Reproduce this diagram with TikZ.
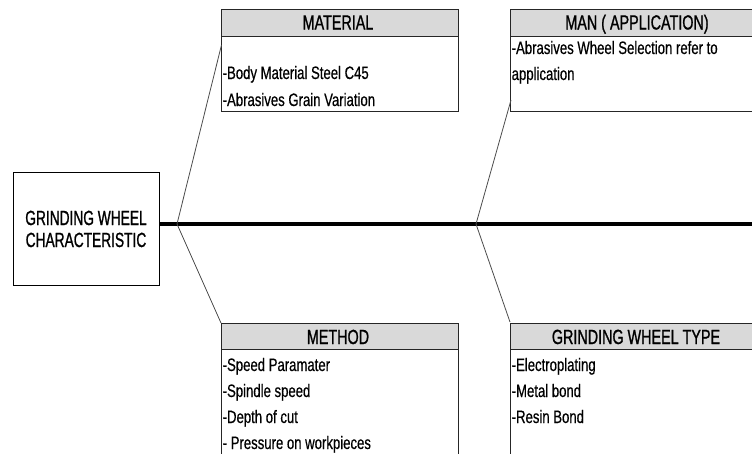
\documentclass[tikz,border=0pt]{standalone}
\usepackage{fontspec}
\setmainfont{Liberation Sans}[FakeStretch=0.73, FakeBold=0.5]
\newfontfamily\headfont{Liberation Sans}[FakeStretch=0.7, FakeBold=1.0]
\newfontfamily\mainfont{Liberation Sans}[FakeStretch=0.67, FakeBold=1.0]
\begin{document}
\begin{tikzpicture}[x=1pt,y=-1pt,
  boxframe/.style={draw=black!85, line width=0.9pt, fill=white, inner sep=0pt, anchor=north west},
  headbox/.style={draw=black!85, line width=0.9pt, fill=black!15, inner sep=0pt, anchor=north west},
  headtext/.style={inner sep=0pt, anchor=base, font=\headfont\fontsize{20.5}{22}\selectfont},
  bodytext/.style={inner sep=0pt, anchor=base west, font=\fontsize{18}{20}\selectfont},
  maintext/.style={inner sep=0pt, anchor=base, font=\mainfont\fontsize{20.5}{22}\selectfont},
  branch/.style={draw=black!70, line width=0.8pt},
  spine/.style={draw=black, line width=3.5pt}
]
\useasboundingbox (0,0) rectangle (752,453);
\clip (0,0) rectangle (752,453);

% main box
\node[boxframe, draw=black, minimum width=146pt, minimum height=113pt] (mainbox) at (13,172) {};
\node[maintext] (main1) at (86,225) {GRINDING WHEEL};
\node[maintext] (main2) at (86,247) {CHARACTERISTIC};

% junctions
\coordinate (spinestart) at (159,224);
\coordinate (spineend) at (752,224);
\coordinate (j1) at (177,224);
\coordinate (j2) at (476,224);

% MATERIAL
\node[boxframe, minimum width=237pt, minimum height=102pt] (matbox) at (221,9) {};
\node[headbox, minimum width=237pt, minimum height=27pt] (mathead) at (221,9) {};
\node[headtext] (matt) at (338,29.5) {MATERIAL};
\node[bodytext] (mat1) at (222.5,79) {-Body Material Steel C45};
\node[bodytext] (mat2) at (222.5,106) {-Abrasives Grain Variation};

% MAN
\node[boxframe, minimum width=255pt, minimum height=102pt] (manbox) at (510,9) {};
\node[headbox, minimum width=255pt, minimum height=27pt] (manhead) at (510,9) {};
\node[headtext] (mant) at (637,29.5) {MAN ( APPLICATION)};
\node[bodytext] (man1) at (511.5,54) {-Abrasives Wheel Selection refer to};
\node[bodytext] (man2) at (511.5,80) {application};

% METHOD
\node[boxframe, minimum width=237pt, minimum height=150pt] (metbox) at (221,323) {};
\node[headbox, minimum width=237pt, minimum height=26pt] (methead) at (221,323) {};
\node[headtext] (mett) at (338,344) {METHOD};
\node[bodytext] (met1) at (222.5,371) {-Speed Paramater};
\node[bodytext] (met2) at (222.5,397) {-Spindle speed};
\node[bodytext] (met3) at (222.5,423) {-Depth of cut};
\node[bodytext] (met4) at (222.5,449) {- Pressure on workpieces};

% GRINDING WHEEL TYPE
\node[boxframe, minimum width=255pt, minimum height=150pt] (typbox) at (510,323) {};
\node[headbox, minimum width=255pt, minimum height=26pt] (typhead) at (510,323) {};
\node[headtext] (typt) at (636,344) {GRINDING WHEEL TYPE};
\node[bodytext] (typ1) at (511.5,371) {-Electroplating};
\node[bodytext] (typ2) at (511.5,397) {-Metal bond};
\node[bodytext] (typ3) at (511.5,423) {-Resin Bond};

% branch ends
\coordinate (e1) at (221.5,45);
\coordinate (e2) at (221,323);
\coordinate (e3) at (511,100);
\coordinate (e4) at (510,322);

% spine and branches
\draw[spine] (spinestart) -- (spineend);
\draw[branch] (j1) -- (e1);
\draw[branch] (j1) -- (e2);
\draw[branch] (j2) -- (e3);
\draw[branch] (j2) -- (e4);
\end{tikzpicture}
\end{document}
